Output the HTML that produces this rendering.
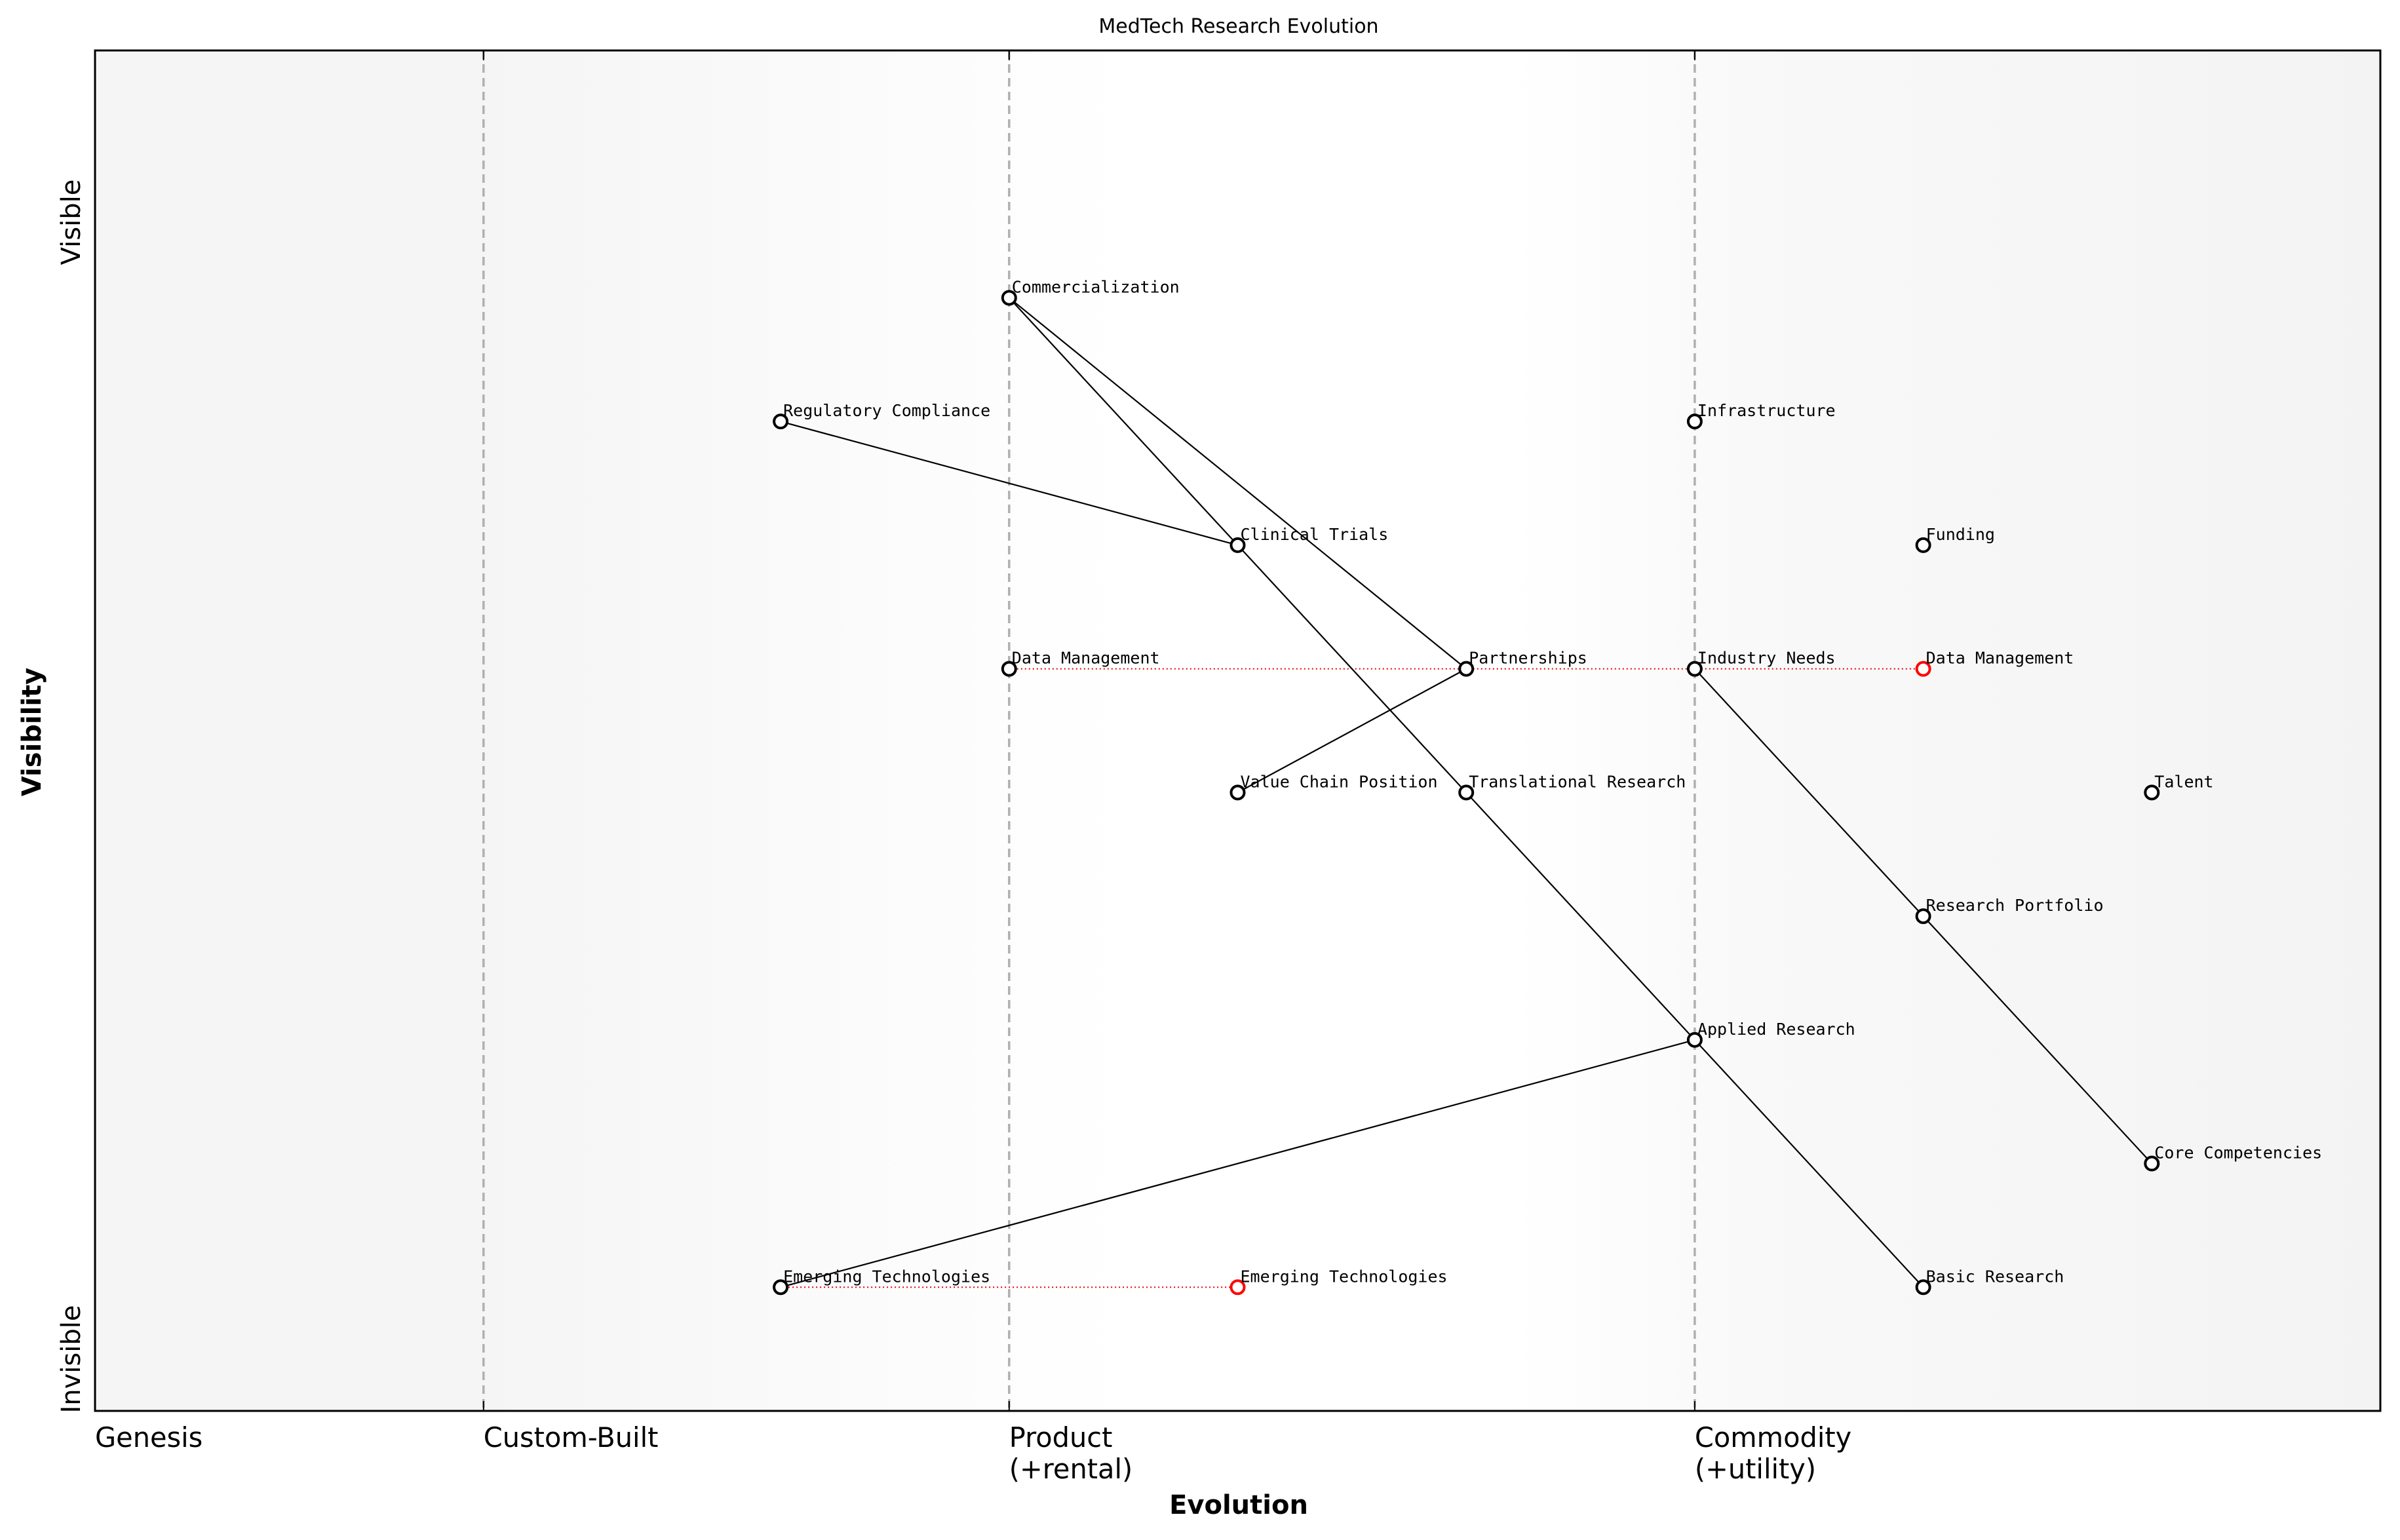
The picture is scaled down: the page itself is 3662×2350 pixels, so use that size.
<!DOCTYPE html>
<html><head><meta charset="utf-8"><style>
html,body{margin:0;padding:0;background:#fff;}
svg{display:block;}
</style></head><body>
<svg width="3662" height="2350" viewBox="0 0 3662 2350" xmlns="http://www.w3.org/2000/svg">
<defs>
<linearGradient id="bg" x1="0" x2="1" y1="0" y2="0">
<stop offset="0" stop-color="#f5f5f5"/>
<stop offset="0.17" stop-color="#f5f5f5"/>
<stop offset="0.45" stop-color="#ffffff"/>
<stop offset="0.62" stop-color="#ffffff"/>
<stop offset="0.72" stop-color="#f9f9f9"/>
<stop offset="1" stop-color="#f3f3f3"/>
</linearGradient>
</defs>
<text x="1890" y="50" font-family="'DejaVu Sans','Liberation Sans',sans-serif" font-size="30" text-anchor="middle">MedTech Research Evolution</text>
<rect x="145" y="77" width="3487" height="2076" fill="url(#bg)"/>
<g id="stages"></g>
<g id="links"></g>
<g id="nodes"></g>
<rect x="145" y="77" width="3487" height="2076" fill="none" stroke="#000" stroke-width="3"/>
<g id="xticks" font-family="'DejaVu Sans','Liberation Sans',sans-serif" font-size="41.5"></g>
<text x="1890" y="2310" font-family="'DejaVu Sans','Liberation Sans',sans-serif" font-size="40" font-weight="bold" text-anchor="middle">Evolution</text>
<text transform="translate(62,1117) rotate(-90)" font-family="'DejaVu Sans','Liberation Sans',sans-serif" font-size="40" font-weight="bold" text-anchor="middle">Visibility</text>
<text transform="translate(122,339) rotate(-90)" font-family="'DejaVu Sans','Liberation Sans',sans-serif" font-size="40" text-anchor="middle">Visible</text>
<text transform="translate(122,2074) rotate(-90)" font-family="'DejaVu Sans','Liberation Sans',sans-serif" font-size="40" text-anchor="middle">Invisible</text>
</svg>
<script>
const stageNames = ["Genesis", "Custom-Built", "Product|(+rental)", "Commodity|(+utility)"];
const stagePos = [0, 0.17, 0.40, 0.70];
const nodeNames = ["Commercialization","Regulatory Compliance","Infrastructure","Clinical Trials","Funding","Data Management","Partnerships","Industry Needs","Value Chain Position","Translational Research","Talent","Research Portfolio","Applied Research","Core Competencies","Emerging Technologies","Basic Research"];
const nodeX = [0.4,0.3,0.7,0.5,0.8,0.4,0.6,0.7,0.5,0.6,0.9,0.8,0.7,0.9,0.3,0.8];
const nodeY = [0.9,0.8,0.8,0.7,0.7,0.6,0.6,0.6,0.5,0.5,0.5,0.4,0.3,0.2,0.1,0.1];
const linkFrom = ["Commercialization","Commercialization","Regulatory Compliance","Clinical Trials","Translational Research","Applied Research","Partnerships","Industry Needs","Research Portfolio","Emerging Technologies"];
const linkTo = ["Clinical Trials","Partnerships","Clinical Trials","Translational Research","Applied Research","Basic Research","Value Chain Position","Research Portfolio","Core Competencies","Applied Research"];
const evoNames = ["Data Management","Emerging Technologies"];
const evoToX = [0.8,0.5];

const X0=145,W=3487,Y0=2153,H=2076,YMAX=1.1;
const sx=v=>X0+v*W, sy=v=>Y0-v/YMAX*H;
const NS="http://www.w3.org/2000/svg";
function mk(tag,attrs,parent){const e=document.createElementNS(NS,tag);for(const k in attrs)e.setAttribute(k,attrs[k]);parent.appendChild(e);return e;}
const gS=document.getElementById('stages'),gL=document.getElementById('links'),gN=document.getElementById('nodes'),gT=document.getElementById('xticks');
stagePos.forEach((p,i)=>{
  const x=sx(p);
  if(i>0){
    const l=mk('line',{x1:x,x2:x,y1:77,y2:2153,stroke:'#b0b0b0','stroke-width':3.5,'stroke-dasharray':'13,8'},gS);
    
    
  }
  const t1=mk('line',{x1:x,x2:x,y1:77,y2:92,stroke:'#000','stroke-width':2},gS);
  
  
  const t2=mk('line',{x1:x,x2:x,y1:2138,y2:2153,stroke:'#000','stroke-width':2},gS);
  
  
  const parts=stageNames[i].split('|');
  const tx=mk('text',{x:x,y:2208},gT);
  
  
  parts.forEach((s,j)=>{const ts=mk('tspan',{x:x,dy:j?48:0},tx);ts.textContent=s;});
});
const idx=n=>nodeNames.indexOf(n);
evoNames.forEach((n,i)=>{
  const k=idx(n);
  const l=mk('line',{x1:sx(nodeX[k]),y1:sy(nodeY[k]),x2:sx(evoToX[i]),y2:sy(nodeY[k]),stroke:'#e00000','stroke-width':2,'stroke-dasharray':'2,4'},gL);
  
  
});
linkFrom.forEach((f,i)=>{
  const a=idx(f),b=idx(linkTo[i]);
  const l=mk('line',{x1:sx(nodeX[a]),y1:sy(nodeY[a]),x2:sx(nodeX[b]),y2:sy(nodeY[b]),stroke:'#000','stroke-width':2.2},gL);
  
  
});
function node(name,x,y,color){
  const c=mk('circle',{cx:sx(x),cy:sy(y),r:10,fill:'#fff',stroke:color,'stroke-width':4},gN);
  
  
  const t=mk('text',{x:sx(x)+4,y:sy(y)-8,'font-family':"'DejaVu Sans Mono','Liberation Mono',monospace",'font-size':25},gN);
  
  
  t.textContent=name;
}
nodeNames.forEach((n,i)=>node(n,nodeX[i],nodeY[i],'#000'));
evoNames.forEach((n,i)=>node(n,evoToX[i],nodeY[idx(n)],'#ff0000'));
</script>
</body></html>
